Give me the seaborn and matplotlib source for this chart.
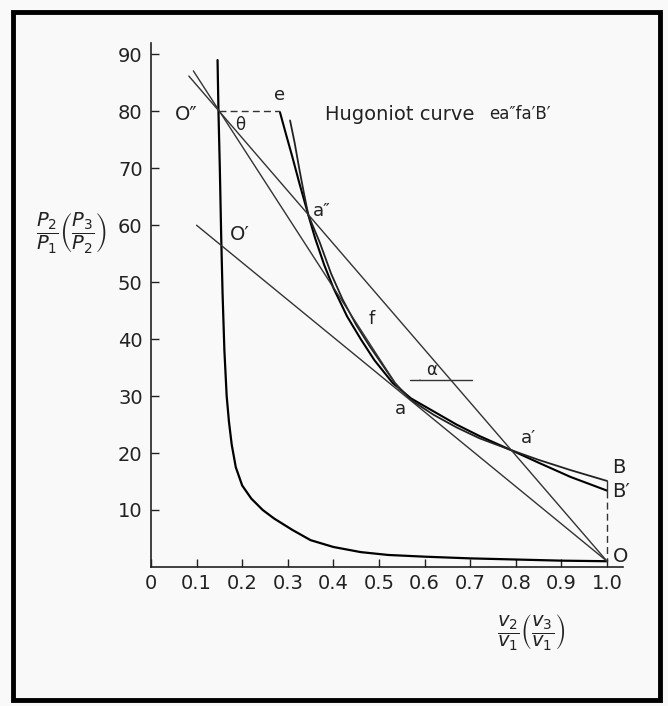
import numpy as np
import pandas as pd
import matplotlib
matplotlib.use('Agg')
import matplotlib.pyplot as plt
from matplotlib.patches import Arc, Rectangle
import seaborn as sns

# limit curve (near-vertical hyperbola ending at O)
iso_v = [0.146, 0.148, 0.151, 0.154, 0.157, 0.161, 0.166, 0.171, 0.177, 0.186,
         0.20, 0.22, 0.245, 0.27, 0.31, 0.35, 0.40, 0.46, 0.52, 0.60, 0.70, 0.80, 0.90, 1.0]
iso_p = [89.0, 80.0, 70.0, 58.0, 48.0, 38.0, 30.0, 25.5, 21.5, 17.5,
         14.3, 12.0, 10.0, 8.5, 6.5, 4.7, 3.5, 2.6, 2.1, 1.8, 1.5, 1.3, 1.1, 1.0]

# Hugoniot curve e a'' f a a' B'
hug1_v = [0.283, 0.296, 0.31, 0.325, 0.345, 0.36, 0.38, 0.40, 0.43, 0.46, 0.49, 0.53,
          0.57, 0.62, 0.67, 0.72, 0.79, 0.85, 0.92, 1.0]
hug1_p = [79.8, 76.0, 72.0, 67.5, 61.8, 57.7, 53.0, 49.0, 44.0, 40.0, 36.3, 32.3,
          29.6, 27.3, 25.0, 23.0, 20.5, 18.3, 15.8, 13.4]

# second curve ending at B
hug2_v = [0.305, 0.315, 0.325, 0.335, 0.345, 0.37, 0.395, 0.42, 0.45, 0.48, 0.51, 0.535,
          0.57, 0.62, 0.67, 0.72, 0.79, 0.85, 0.92, 1.0]
hug2_p = [78.4, 74.5, 70.0, 65.8, 61.8, 57.0, 51.5, 47.0, 42.5, 38.7, 35.2, 32.3,
          29.3, 26.7, 24.5, 22.6, 20.5, 18.8, 17.0, 15.1]

# straight lines (end points)
line_OO2_v = [0.083, 1.0]      # O'' a'' a' O
line_OO2_p = [86.2, 1.0]
line_O2a_v = [0.093, 0.545]    # O'' a
line_O2a_p = [87.1, 31.1]
line_O1O_v = [0.10, 1.0]       # O' a O
line_O1O_p = [60.0, 1.0]
alpha_v = [0.568, 0.704]
alpha_p = [32.8, 32.8]
dash_top_v = [0.15, 0.283]
dash_top_p = [80.0, 80.0]
dash_right_v = [1.0, 1.0]
dash_right_p = [13.4, 1.0]
bb_v = [1.0, 1.0]
bb_p = [13.4, 15.1]

x_ticks = [0, 0.1, 0.2, 0.3, 0.4, 0.5, 0.6, 0.7, 0.8, 0.9, 1.0]
x_labels = ['0', '0.1', '0.2', '0.3', '0.4', '0.5', '0.6', '0.7', '0.8', '0.9', '1.0']
y_ticks = [10, 20, 30, 40, 50, 60, 70, 80, 90]

BG = '#f9f9f9'
sns.set_style('ticks')
plt.rcParams['font.family'] = ['DejaVu Sans']
plt.rcParams['mathtext.fontset'] = 'dejavusans'

fig = plt.figure(figsize=(6.68, 7.06), dpi=100, facecolor=BG)
ax = fig.add_axes([0.226, 0.197, 0.7066, 0.7421])
ax.set_facecolor(BG)

# curves
sns.lineplot(x=iso_v, y=iso_p, ax=ax, color='black', lw=1.6, sort=False, estimator=None)
sns.lineplot(x=hug1_v, y=hug1_p, ax=ax, color='black', lw=1.5, sort=False, estimator=None)
sns.lineplot(x=hug2_v, y=hug2_p, ax=ax, color='#222222', lw=1.3, sort=False, estimator=None)

# rays
for xs, ys in [(line_OO2_v, line_OO2_p), (line_O2a_v, line_O2a_p),
               (line_O1O_v, line_O1O_p), (alpha_v, alpha_p), (bb_v, bb_p)]:
    sns.lineplot(x=xs, y=ys, ax=ax, color='#333333', lw=1.0, sort=False, estimator=None)

for xs, ys in [(dash_top_v, dash_top_p), (dash_right_v, dash_right_p)]:
    sns.lineplot(x=xs, y=ys, ax=ax, color='#333333', lw=1.0, sort=False,
                 estimator=None, linestyle=(0, (5, 3)))

ax.set_xlim(0, 1.035)
ax.set_ylim(0, 92)

# angle arcs (circular on screen)
px_x = 456.0   # pixels per unit v
px_y = 5.7     # pixels per unit p
r = 39
ax.add_patch(Arc((0.15, 80.0), 2 * r / px_x, 2 * r / px_y, theta1=-49.3, theta2=0,
                 color='#333333', lw=1.1, linestyle=(0, (4, 3))))
r = 31
ax.add_patch(Arc((0.658, 32.8), 2 * r / px_x, 2 * r / px_y, theta1=130.7, theta2=180,
                 color='#333333', lw=1.1))

ax.set_xticks(x_ticks)
ax.set_xticklabels(x_labels)
ax.set_yticks(y_ticks)
ax.tick_params(direction='in', length=6, width=1, labelsize=14, colors='#222222')
ax.tick_params(axis='x', pad=5)
ax.tick_params(axis='y', pad=6)
ax.set_xlabel('')
ax.set_ylabel('')
sns.despine(ax=ax)
for s in ['left', 'bottom']:
    ax.spines[s].set_linewidth(1.2)
    ax.spines[s].set_color('#222222')

kw = dict(color='#222222', clip_on=False, va='center')
ax.text(0.077, 79.5, 'O\u2033', fontsize=14, ha='center', **kw)
ax.text(0.195, 77.6, '\u03b8', fontsize=12, ha='center', **kw)
ax.text(0.283, 82.8, 'e', fontsize=13, ha='center', **kw)
ax.text(0.382, 79.5, 'Hugoniot curve', fontsize=14, ha='left', **kw)
ax.text(0.742, 79.5, 'ea\u2033fa\u2032B\u2032', fontsize=12, ha='left', **kw)
ax.text(0.356, 62.5, 'a\u2033', fontsize=13, ha='left', **kw)
ax.text(0.195, 58.3, 'O\u2032', fontsize=14, ha='center', **kw)
ax.text(0.484, 43.6, 'f', fontsize=13, ha='center', **kw)
ax.text(0.616, 34.6, '\u03b1', fontsize=12, ha='center', **kw)
ax.text(0.548, 27.8, 'a', fontsize=13, ha='center', **kw)
ax.text(0.828, 22.6, 'a\u2032', fontsize=13, ha='center', **kw)
ax.text(1.012, 17.4, 'B', fontsize=14, ha='left', **kw)
ax.text(1.012, 13.3, 'B\u2032', fontsize=14, ha='left', **kw)
ax.text(1.012, 1.9, 'O', fontsize=14, ha='left', **kw)

fig.text(0.106, 0.671, r'$\dfrac{P_2}{P_1}\left(\dfrac{P_3}{P_2}\right)$',
         fontsize=14, ha='center', va='center', color='#222222')
fig.text(0.796, 0.105, r'$\dfrac{v_2}{v_1}\left(\dfrac{v_3}{v_1}\right)$',
         fontsize=14, ha='center', va='center', color='#222222')

# frame around the figure
fig.add_artist(Rectangle((0.0195, 0.0085), 0.9685, 0.9745, transform=fig.transFigure,
                         fill=False, lw=3.5, edgecolor='black'))

fig.savefig('out.png', dpi=100, facecolor=BG)
